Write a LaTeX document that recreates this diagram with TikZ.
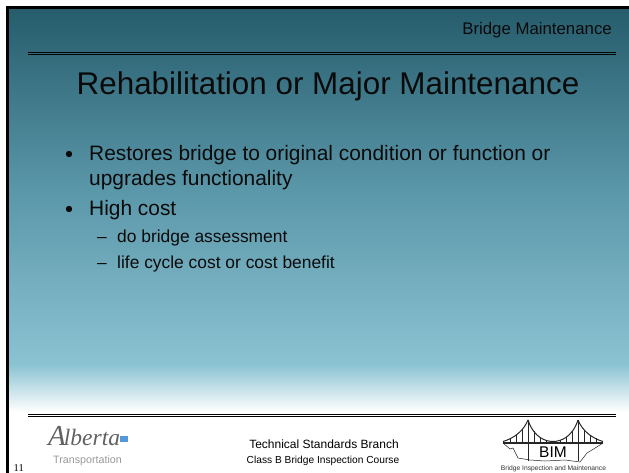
\documentclass[tikz,border=0pt]{standalone}
\usepackage{fontspec}
\setmainfont{Liberation Sans}
\newfontfamily\serifface{Liberation Serif}
\definecolor{gtop}{HTML}{265C6C}
\definecolor{gmid}{HTML}{5A97A9}
\definecolor{gbot}{HTML}{8CC3D3}
\definecolor{ink}{HTML}{0A0A0A}
\tikzset{
  px/.style={x=1pt,y=-1pt},
  label/.style={inner sep=0pt,anchor=base west,text=ink},
  ruleline/.style={draw=black,line width=0.8pt},
  bridgeline/.style={draw=black!85,line width=1pt},
  hanger/.style={draw=black!85,line width=0.5pt}
}
\newcommand{\fs}[1]{\fontsize{#1}{#1}\selectfont}
\begin{document}
\begin{tikzpicture}[px]
\useasboundingbox (0,0) rectangle (629,473);
\fill[white] (0,0) rectangle (629,473);
% background gradient
\shade[top color=gtop,bottom color=gmid] (8,8) rectangle (629,190);
\shade[top color=gmid,bottom color=gbot] (8,190) rectangle (629,365);
\shade[top color=gbot,bottom color=white] (8,365) rectangle (629,412);
% frame
\fill[black] (6,6) rectangle (629,9);
\fill[black] (6,6) rectangle (9,473);
% rules
\draw[ruleline] (28,52.2) -- (616,52.2);
\draw[ruleline] (28,54.2) -- (616,54.2);
\draw[ruleline] (28,414.2) -- (616,414.2);
\draw[ruleline] (28,416.2) -- (616,416.2);
% texts
\node[label,anchor=base east] (hdr) at (612,35) {\fs{16.8}Bridge Maintenance};
\node[label,anchor=base] (title) at (328,95) {\fs{31.4}Rehabilitation or Major Maintenance};
\fill[ink] (69,154) circle (3.2);
\node[label] (t1) at (89,161) {\fs{20.9}Restores bridge to original condition or function or};
\node[label] (t1b) at (89,186) {\fs{20.9}upgrades functionality};
\fill[ink] (69,209) circle (3.2);
\node[label] (t2) at (89,216) {\fs{20.9}High cost};
\node[label] (d1) at (97,242) {\fs{17.4}–};
\node[label] (t3) at (117,242) {\fs{17.4}do bridge assessment};
\node[label] (d2) at (97,268) {\fs{17.4}–};
\node[label] (t4) at (117,268) {\fs{17.4}life cycle cost or cost benefit};
\node[label,anchor=base,text=black] (f1) at (324,448) {\fs{12}Technical Standards Branch};
\node[label,anchor=base,text=black] (f2) at (323,463) {\fs{10.2}Class B Bridge Inspection Course};
\node[label,text=black] (num) at (13.5,471.5) {\serifface\fs{10.5}11};
% Alberta logo
\node[label,anchor=base west,text=black!62] (alb) at (48,445) {\serifface\itshape{\fs{29}A}\kern-2pt\fs{23.5}lberta};
\fill[cyan!60!blue!70!white] (120,435.5) rectangle (127.5,442);
\node[label,text=black!40] (tr) at (53,463) {\fs{10.7}Transportation};
% bridge logo
\draw[bridgeline,line width=1.6pt] (503,443) -- (603,443);
\draw[bridgeline] (528,420) -- (528,461);
\draw[bridgeline] (578,420) -- (578,461);
\draw[bridgeline] (503,441.5) .. controls (515,438) and (524,430) .. (528,420);
\draw[bridgeline] (528,420) .. controls (534,438) and (546,441.5) .. (553,441.5) .. controls (560,441.5) and (572,438) .. (578,420);
\draw[bridgeline] (578,420) .. controls (582,430) and (591,438) .. (603,441.5);
\foreach \x/\y in {510/438,516/435,522/430,534/431,540/437,546/440,553/441,560/440,566/437,572/431,584/430,590/435,596/438}
  \draw[hanger] (\x,\y) -- (\x,443);
\draw[bridgeline,line width=0.5pt] (503,443) -- (510,449) -- (513,448) -- (518,458) -- (530,460) -- (545,461) -- (565,460) -- (580,462) -- (587,453) -- (592,450) -- (603,443);
\node[label,anchor=base,text=black] (bim) at (553,457) {\fs{15.5}BIM};
\node[label,anchor=base,text=black!80] (cap) at (553.5,470) {\fs{6.7}Bridge Inspection and Maintenance};
\end{tikzpicture}
\end{document}
